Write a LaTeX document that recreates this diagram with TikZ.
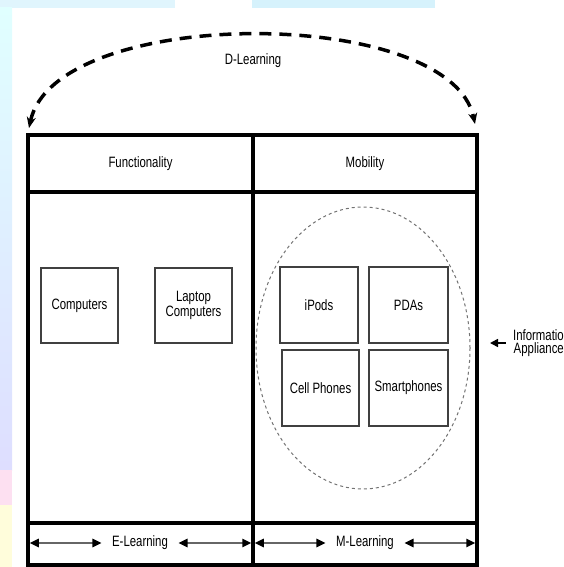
\documentclass[tikz,border=0pt]{standalone}
\usepackage{fontspec}
\setmainfont{Liberation Sans}[FakeStretch=0.76]
\usepackage{tikz}
\usetikzlibrary{arrows.meta, shapes.geometric}
\tikzset{cell/.style 2 args={draw=black, line width=4.5pt, inner sep=0pt, minimum width=#1, minimum height=#2},
         device/.style={draw=black!75, line width=1.1pt, inner sep=0pt, minimum width=77pt, minimum height=75pt, align=center},
         ring/.style={ellipse, draw=black!55, line width=1pt, dash pattern=on 3pt off 3pt, minimum width=214pt, minimum height=282pt},
         tag/.style={inner xsep=6.5pt, inner ysep=0pt},
         twoway/.style={{Triangle[length=9pt,width=8.5pt,color=black]}-{Triangle[length=9pt,width=8.5pt,color=black]}, line width=1.6pt, draw=black!60, shorten <=4pt, shorten >=4pt},
         pointer/.style={-{Triangle[length=8pt,width=8pt]}, line width=1.6pt, shorten <=7pt},
         span/.style={{Stealth[length=11pt,width=9pt]}-{Stealth[length=11pt,width=9pt]}, line width=3.5pt, dash pattern=on 12pt off 8pt}}

\begin{document}
\begin{tikzpicture}[x=1pt, y=-1pt, every node/.style={font=\fontsize{15}{13.5}\selectfont}]

    \useasboundingbox (0,0) rectangle (563,567);

    \fill[cyan!12] (0,0) rectangle (175,8);
    \fill[cyan!16] (252,0) rectangle (435,8);
    \shade[top color=cyan!12, bottom color=blue!13] (0,8) rectangle (12,470);
    \fill[magenta!12] (0,470) rectangle (12,505);
    \fill[yellow!14] (0,505) rectangle (12,567);

    \node[cell={225pt}{57pt}] (func) at (140.5,163.5) {Functionality};
    \node[cell={224pt}{57pt}] (mob) at (365,163.5) {Mobility};
    \node[cell={225pt}{331pt}] (fbody) at (140.5,357.5) {};
    \node[cell={224pt}{331pt}] (mbody) at (365,357.5) {};
    \node[cell={225pt}{42pt}] (efoot) at (140.5,544) {};
    \node[cell={224pt}{42pt}] (mfoot) at (365,544) {};

    \node (dlearn) at (253,61) {D-Learning};
    \coordinate (dleft) at (29,128);
    \coordinate (dright) at (475,124);
    \draw[span] (dleft) .. controls (55,5) and (450,5) .. (dright);

    \node[device] (comp) at (79.5,305.5) {Computers};
    \node[device] (laptop) at (193.5,305.5) {Laptop\\Computers};

    \node[ring] (handheld) at (363,348) {};
    \node[device, minimum width=78pt, minimum height=76pt] (ipods) at (319,305) {iPods};
    \node[device, minimum width=79pt, minimum height=76pt] (pdas) at (408.5,305) {PDAs};
    \node[device, minimum height=76pt] (cell) at (320.5,388) {Cell Phones};
    \node[device, minimum width=79pt, minimum height=76pt] (smart) at (408.5,388) {Smartphones};

    \node[tag] (elearn) at (140,543) {E-Learning};
    \node[tag] (mlearn) at (365,543) {M-Learning};
    \draw[twoway] (efoot.west |- elearn) -- (elearn.west);
    \draw[twoway] (elearn.east) -- (efoot.east |- elearn);
    \draw[twoway] (mfoot.west |- mlearn) -- (mlearn.west);
    \draw[twoway] (mlearn.east) -- (mfoot.east |- mlearn);

    \node[anchor=east, align=right, inner sep=0pt] (info) at (564,343) {Informatio\\Appliance};
    \coordinate (infotip) at (490,343);
    \draw[pointer] (info.west) -- (infotip);

\end{tikzpicture}
\end{document}
